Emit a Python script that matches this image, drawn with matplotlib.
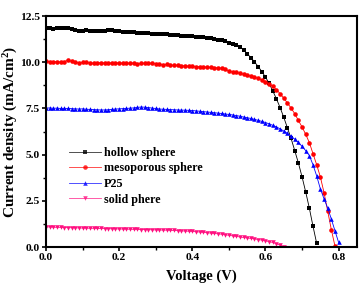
import matplotlib
matplotlib.use("Agg")
import matplotlib.pyplot as plt

voltage = [0.00, 0.01, 0.02, 0.03, 0.04, 0.05, 0.06, 0.07, 0.08, 0.09,
           0.10, 0.11, 0.12, 0.13, 0.14, 0.15, 0.16, 0.17, 0.18, 0.19,
           0.20, 0.21, 0.22, 0.23, 0.24, 0.25, 0.26, 0.27, 0.28, 0.29,
           0.30, 0.31, 0.32, 0.33, 0.34, 0.35, 0.36, 0.37, 0.38, 0.39,
           0.40, 0.41, 0.42, 0.43, 0.44, 0.45, 0.46, 0.47, 0.48, 0.49,
           0.50, 0.51, 0.52, 0.53, 0.54, 0.55, 0.56, 0.57, 0.58, 0.59,
           0.60, 0.61, 0.62, 0.63, 0.64, 0.65, 0.66, 0.67, 0.68, 0.69,
           0.70, 0.71, 0.72, 0.73, 0.74, 0.75, 0.76, 0.77, 0.78, 0.79,
           0.80]

hollow_sphere = [11.85, 11.84, 11.82, 11.85, 11.86, 11.83, 11.84, 11.80, 11.74, 11.70,
                 11.71, 11.72, 11.70, 11.71, 11.69, 11.70, 11.71, 11.73, 11.72, 11.70,
                 11.68, 11.66, 11.65, 11.63, 11.62, 11.60, 11.59, 11.57, 11.56, 11.55,
                 11.55, 11.53, 11.52, 11.51, 11.50, 11.48, 11.46, 11.44, 11.43, 11.42,
                 11.40, 11.38, 11.37, 11.35, 11.33, 11.30, 11.27, 11.23, 11.18, 11.13,
                 11.07, 11.00, 10.92, 10.82, 10.68, 10.47, 10.25, 10.02, 9.77, 9.50,
                 9.20, 8.86, 8.45, 8.02, 7.55, 7.02, 6.45, 5.88, 5.22, 4.55,
                 3.80, 2.98, 2.10, 1.12, 0.20]

mesoporous_sphere = [10.05, 10.03, 10.02, 10.04, 10.01, 10.03, 10.12, 10.05, 10.00, 9.98,
                     10.00, 9.99, 9.96, 9.95, 9.97, 9.98, 9.96, 9.95, 9.97, 9.98,
                     9.96, 9.95, 9.94, 9.96, 9.95, 9.93, 9.94, 9.95, 9.96, 9.94,
                     9.93, 9.88, 9.86, 9.88, 9.84, 9.83, 9.84, 9.82, 9.80, 9.79,
                     9.78, 9.77, 9.76, 9.75, 9.74, 9.72, 9.71, 9.70, 9.68, 9.62,
                     9.52, 9.48, 9.45, 9.40, 9.35, 9.30, 9.25, 9.19, 9.13, 9.05,
                     8.95, 8.83, 8.70, 8.52, 8.30, 8.05, 7.80, 7.52, 7.22, 6.85,
                     6.50, 6.10, 5.65, 5.05, 4.45, 3.80, 2.95, 1.95, 0.95, 0.05]

p25 = [7.52, 7.53, 7.51, 7.52, 7.50, 7.51, 7.50, 7.49, 7.48, 7.47,
       7.48, 7.46, 7.45, 7.44, 7.43, 7.42, 7.42, 7.43, 7.45, 7.47,
       7.48, 7.49, 7.50, 7.52, 7.53, 7.56, 7.58, 7.57, 7.55, 7.52,
       7.50, 7.47, 7.46, 7.45, 7.44, 7.43, 7.42, 7.41, 7.41, 7.40,
       7.39, 7.37, 7.35, 7.33, 7.31, 7.29, 7.27, 7.25, 7.23, 7.20,
       7.18, 7.15, 7.12, 7.08, 7.04, 7.00, 6.96, 6.91, 6.86, 6.80,
       6.74, 6.67, 6.59, 6.50, 6.40, 6.28, 6.15, 6.00, 5.84, 5.66,
       5.45, 5.22, 4.95, 4.45, 3.85, 3.15, 2.62, 2.12, 1.52, 0.88,
       0.25]

solid_phere = [1.10, 1.09, 1.08, 1.07, 1.07, 1.06, 1.05, 1.05, 1.04, 1.04,
               1.03, 1.03, 1.02, 1.02, 1.01, 1.01, 1.00, 1.00, 0.99, 0.99,
               0.98, 0.98, 0.97, 0.97, 0.96, 0.96, 0.95, 0.95, 0.94, 0.94,
               0.93, 0.93, 0.92, 0.92, 0.91, 0.90, 0.89, 0.88, 0.87, 0.86,
               0.85, 0.83, 0.82, 0.80, 0.78, 0.76, 0.74, 0.72, 0.70, 0.67,
               0.64, 0.61, 0.58, 0.55, 0.52, 0.50, 0.47, 0.45, 0.41, 0.38,
               0.34, 0.30, 0.25, 0.18, 0.11, 0.03]

labels = ["hollow sphere", "mesoporous sphere", "P25", "solid phere"]
x_ticks = [0.0, 0.2, 0.4, 0.6, 0.8]
y_ticks = [0.0, 2.5, 5.0, 7.5, 10.0, 12.5]

plt.rcParams['font.family'] = ['Liberation Serif', 'DejaVu Serif']
plt.rcParams['font.weight'] = 'bold'
plt.rcParams['mathtext.fontset'] = 'custom'
plt.rcParams['mathtext.rm'] = 'Liberation Serif:bold'
plt.rcParams['mathtext.default'] = 'rm'

fig = plt.figure(figsize=(3.62, 2.87), dpi=100)
ax = fig.add_axes([0.127, 0.139, 0.859, 0.805])

series = [hollow_sphere, mesoporous_sphere, p25, solid_phere]
colors = ['#000000', '#FF0000', '#0000FF', '#FF1080']
markers = ['s', 'o', '^', 'v']
for ys, c, m, lab in zip(series, colors, markers, labels):
    ax.plot(voltage[:len(ys)], ys, color=c, lw=0.6,
            marker=m, markersize=3.3, markeredgewidth=0, label=lab)

ax.set_xlim(0.0, 0.85)
ax.set_ylim(0.0, 12.5)
ax.set_xticks(x_ticks)
ax.set_xticklabels([f"{v:.1f}" for v in x_ticks])
ax.set_yticks(y_ticks)
ax.set_yticklabels([f"{v:.1f}" for v in y_ticks])
ax.set_xticks([0.1, 0.3, 0.5, 0.7], minor=True)
ax.set_yticks([1.25, 3.75, 6.25, 8.75, 11.25], minor=True)
ax.tick_params(axis='both', which='major', direction='out', length=3, width=1.2,
               labelsize=8.2, pad=1.5)
ax.tick_params(axis='both', which='minor', direction='out', length=2, width=1.0)
for s in ax.spines.values():
    s.set_linewidth(1.5)

ax.set_xlabel("Voltage (V)", fontsize=10.5, fontweight='bold')
ax.set_ylabel("Current density (mA/cm$^2$)", fontsize=11, fontweight='bold')
ax.xaxis.set_label_coords(0.5, -0.095)
ax.yaxis.set_label_coords(-0.085, 0.5)

leg = ax.legend(loc='upper left', bbox_to_anchor=(0.06, 0.455), frameon=False,
                fontsize=8.7, handlelength=2.6, handletextpad=0.25,
                labelspacing=0.3, borderaxespad=0)
for ln in leg.get_lines():
    ln.set_alpha(0.8)

fig.savefig("out.png", dpi=100)
